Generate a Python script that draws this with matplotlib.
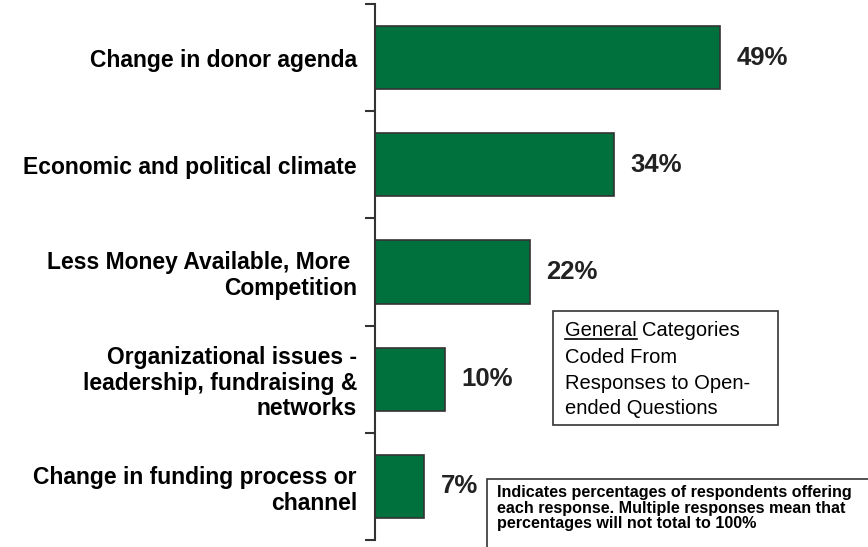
import numpy as np
import matplotlib.pyplot as plt

categories = ["Change in donor agenda",
              "Economic and political climate",
              "Less Money Available, More \nCompetition",
              "Organizational issues -\nleadership, fundraising &\nnetworks",
              "Change in funding process or\nchannel"]
values = [49, 34, 22, 10, 7]

plt.rcParams['font.family'] = ['Liberation Sans', 'DejaVu Sans']

W, H = 868, 547
fig = plt.figure(figsize=(W / 100, H / 100), dpi=100)
ax = fig.add_axes([375 / W, 7 / H, 1 - 375 / W, 536 / H])

y = np.arange(len(values))
ax.barh(y, values, height=0.59, color='#00703c', edgecolor='#333333', linewidth=1.2)
ax.set_ylim(len(values) - 0.5, -0.5)
ax.set_xlim(0, 70)

for yi, v in zip(y, values):
    ax.text(v + 2.3, yi, f"{v}%", va='center', ha='left', fontsize=18.5, fontweight='bold', color='#222222')

ax.set_yticks(y)
ax.set_yticklabels(categories, fontsize=16.5, fontweight='bold', ha='right', linespacing=1.15)
ax.set_yticks(np.arange(len(values) + 1) - 0.5, minor=True)
ax.tick_params(axis='y', which='major', length=0, pad=13)
ax.tick_params(axis='y', which='minor', length=7, width=1.5, color='#333333', direction='out')
ax.set_xticks([])
for s in ['top', 'right', 'bottom']:
    ax.spines[s].set_visible(False)
ax.spines['left'].set_linewidth(1.5)
ax.spines['left'].set_color('#333333')

# legend box
fig.patches.append(plt.Rectangle((553 / W, 1 - 425 / H), 225 / W, 114 / H, transform=fig.transFigure,
                                 fill=False, edgecolor='#333333', linewidth=1.2))
fs_box = 14.5
x0, y0 = 565 / W, 1 - 321 / H
t_gen = fig.text(x0, y0, "General", fontsize=fs_box, va='top', ha='left')
fig.canvas.draw()
bb = t_gen.get_window_extent().transformed(fig.transFigure.inverted())
fig.text(bb.x1 + 5 / W, y0, "Categories", fontsize=fs_box, va='top', ha='left')
fig.add_artist(plt.Line2D([bb.x0, bb.x1], [bb.y0 + 1 / H, bb.y0 + 1 / H], transform=fig.transFigure,
                          color='black', linewidth=1.2))
fig.text(x0, y0 - 27 / H, "Coded From\nResponses to Open-\nended Questions",
         fontsize=fs_box, va='top', ha='left', linespacing=1.45)

# footnote box
fig.patches.append(plt.Rectangle((487 / W, -0.05), 0.5, 1 - 479 / H + 0.05, transform=fig.transFigure,
                                 fill=False, edgecolor='#333333', linewidth=1.2))
fig.text(497 / W, 1 - 485 / H, "Indicates percentages of respondents offering\neach response. Multiple responses mean that\npercentages will not total to 100%",
         fontsize=11.6, fontweight='bold', va='top', ha='left', linespacing=1.05)

fig.savefig("out.png", dpi=100)
